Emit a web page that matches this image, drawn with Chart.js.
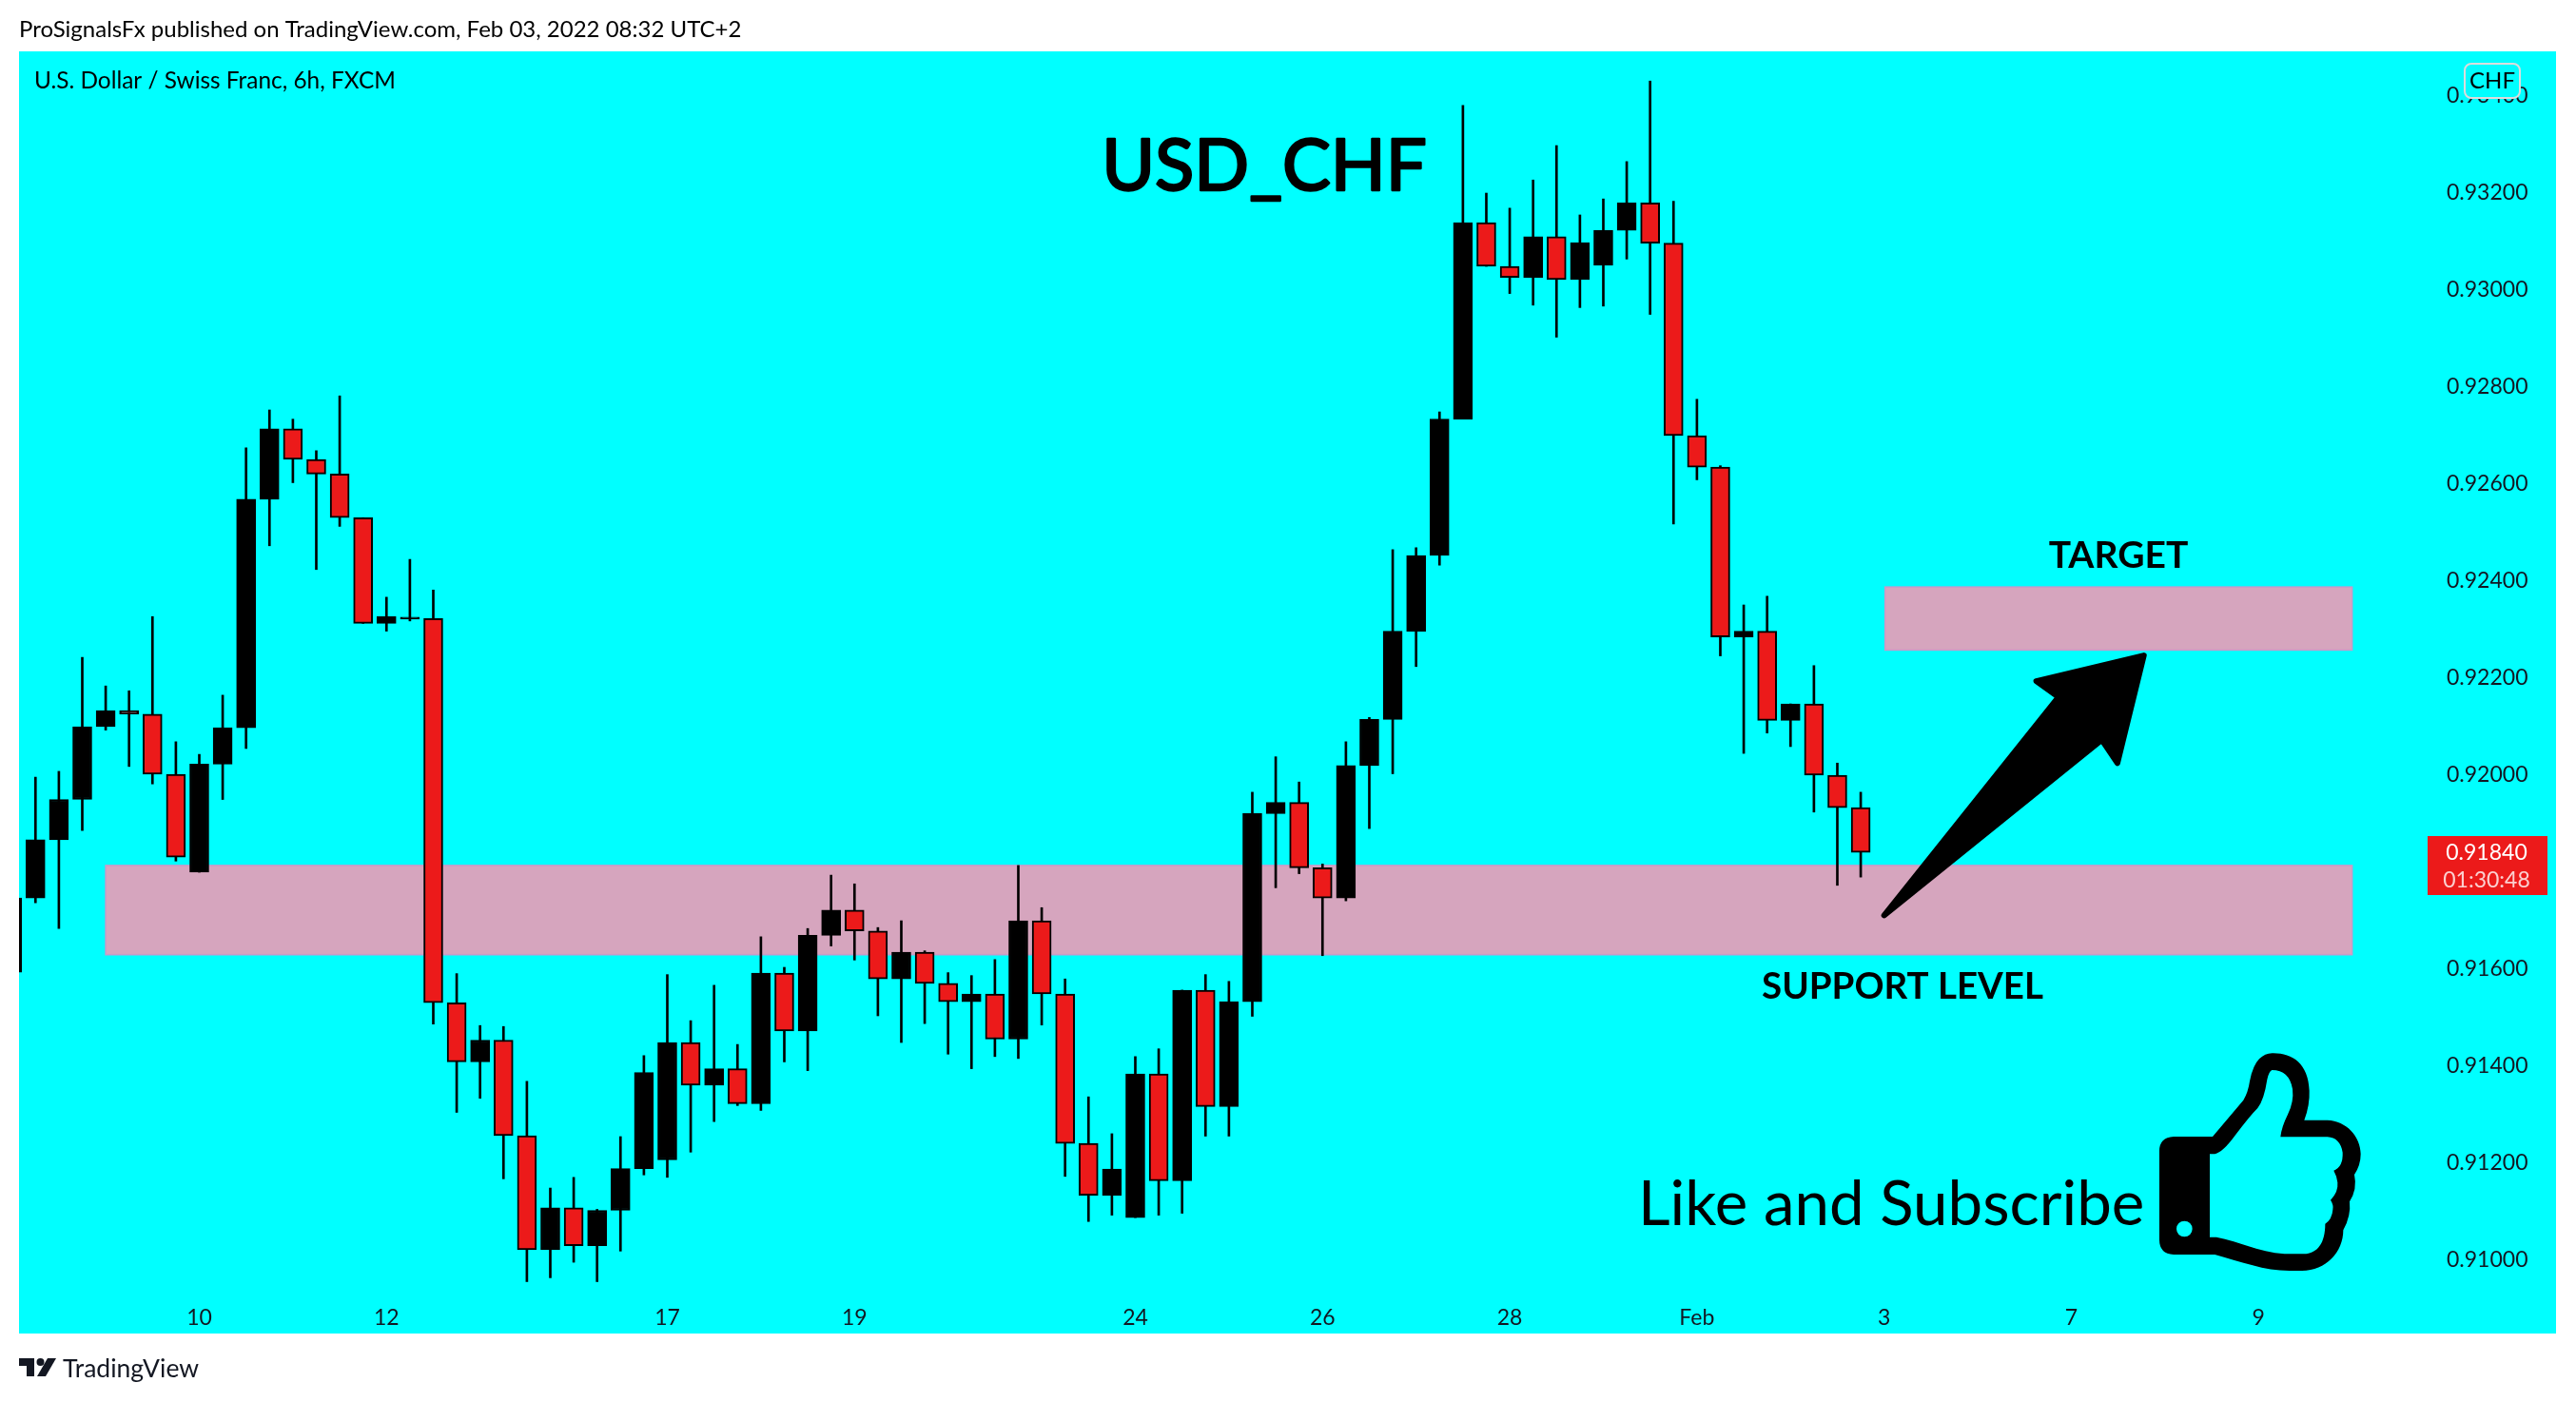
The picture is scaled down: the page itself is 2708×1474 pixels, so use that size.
<!DOCTYPE html>
<html>
<head>
<meta charset="utf-8">
<title>USD_CHF</title>
<script src="https://cdn.jsdelivr.net/npm/chart.js@4"></script>
<style>
    html, body { margin: 0; padding: 0; background: #ffffff; }
    canvas { display: block; }
</style>
</head>
<body>
<canvas id="priceChart" width="2708" height="1474"></canvas>
<script>
// Candle data, first bar is the one cut off by the left edge (index -1)
const firstIndex = -1;
const opens = [
    0.91593, 0.91746, 0.91866, 0.91949, 0.92099, 0.92132, 0.92125, 0.92001, 0.91799, 0.92022,
    0.92097, 0.92568, 0.92713, 0.92650, 0.92620, 0.92530, 0.92312, 0.92321, 0.92322, 0.91530,
    0.91408, 0.91453, 0.91256, 0.91021, 0.91107, 0.91029, 0.91102, 0.91188, 0.91206, 0.91448,
    0.91360, 0.91394, 0.91322, 0.91591, 0.91472, 0.91669, 0.91721, 0.91678, 0.91579, 0.91634,
    0.91570, 0.91532, 0.91548, 0.91455, 0.91699, 0.91548, 0.91240, 0.91133, 0.91087, 0.91383,
    0.91163, 0.91556, 0.91316, 0.91532, 0.91920, 0.91943, 0.91808, 0.91746, 0.92019, 0.92114,
    0.92296, 0.92452, 0.92733, 0.93138, 0.93048, 0.93025, 0.93109, 0.93021, 0.93050, 0.93122,
    0.93179, 0.93096, 0.92699, 0.92634, 0.92284, 0.92296, 0.92112, 0.92146, 0.91999, 0.91932
];
const closes = [
    0.91746, 0.91866, 0.91949, 0.92099, 0.92132, 0.92125, 0.92001, 0.91830, 0.92022, 0.92097,
    0.92568, 0.92713, 0.92650, 0.92620, 0.92530, 0.92312, 0.92326, 0.92325, 0.91530, 0.91408,
    0.91453, 0.91256, 0.91021, 0.91107, 0.91029, 0.91102, 0.91188, 0.91386, 0.91448, 0.91360,
    0.91394, 0.91322, 0.91591, 0.91472, 0.91669, 0.91721, 0.91678, 0.91579, 0.91634, 0.91570,
    0.91532, 0.91548, 0.91455, 0.91699, 0.91548, 0.91240, 0.91133, 0.91187, 0.91383, 0.91163,
    0.91556, 0.91316, 0.91532, 0.91920, 0.91943, 0.91808, 0.91746, 0.92019, 0.92114, 0.92296,
    0.92452, 0.92733, 0.93138, 0.93048, 0.93025, 0.93109, 0.93021, 0.93097, 0.93122, 0.93179,
    0.93096, 0.92699, 0.92634, 0.92284, 0.92296, 0.92112, 0.92146, 0.91999, 0.91932, 0.91840
];
const highs = [
    0.91746, 0.91995, 0.92007, 0.92242, 0.92183, 0.92173, 0.92326, 0.92068, 0.92042, 0.92164,
    0.92674, 0.92752, 0.92733, 0.92668, 0.92781, 0.92530, 0.92366, 0.92444, 0.92381, 0.91590,
    0.91483, 0.91481, 0.91368, 0.91148, 0.91170, 0.91104, 0.91254, 0.91421, 0.91588, 0.91493,
    0.91566, 0.91444, 0.91666, 0.91603, 0.91683, 0.91793, 0.91775, 0.91685, 0.91699, 0.91637,
    0.91592, 0.91586, 0.91619, 0.91813, 0.91726, 0.91579, 0.91336, 0.91260, 0.91419, 0.91435,
    0.91556, 0.91588, 0.91574, 0.91964, 0.92037, 0.91985, 0.91816, 0.92068, 0.92118, 0.92464,
    0.92468, 0.92748, 0.93380, 0.93199, 0.93168, 0.93226, 0.93297, 0.93154, 0.93187, 0.93264,
    0.93430, 0.93182, 0.92774, 0.92637, 0.92350, 0.92368, 0.92146, 0.92225, 0.92024, 0.91964
];
const lows = [
    0.91593, 0.91736, 0.91683, 0.91885, 0.92092, 0.92017, 0.91981, 0.91822, 0.91799, 0.91949,
    0.92054, 0.92472, 0.92602, 0.92423, 0.92512, 0.92312, 0.92296, 0.92317, 0.91486, 0.91304,
    0.91333, 0.91167, 0.90955, 0.90963, 0.90995, 0.90955, 0.91018, 0.91175, 0.91170, 0.91222,
    0.91285, 0.91318, 0.91308, 0.91408, 0.91390, 0.91647, 0.91618, 0.91503, 0.91448, 0.91487,
    0.91424, 0.91394, 0.91419, 0.91415, 0.91484, 0.91172, 0.91079, 0.91092, 0.91087, 0.91092,
    0.91096, 0.91255, 0.91255, 0.91502, 0.91767, 0.91796, 0.91627, 0.91740, 0.91889, 0.92002,
    0.92223, 0.92432, 0.92733, 0.93048, 0.92992, 0.92968, 0.92902, 0.92963, 0.92966, 0.93063,
    0.92949, 0.92517, 0.92608, 0.92245, 0.92044, 0.92086, 0.92058, 0.91923, 0.91772, 0.91789
];

// Axis ticks
const priceTicks = [0.91, 0.912, 0.914, 0.916, 0.92, 0.922, 0.924, 0.926, 0.928, 0.93, 0.932, 0.934];
const timeTickIndex = [7, 15, 27, 35, 47, 55, 63, 71, 79, 87, 95];
const timeTickLabels = ['10', '12', '17', '19', '24', '26', '28', 'Feb', '3', '7', '9'];
const lastPrice = 0.9184;

// Drawn objects, in bar index and price
const zoneStart = [3, 79.04];
const zoneEnd = [99, 99];
const zoneTop = [0.91813, 0.92387];
const zoneBottom = [0.91629, 0.92257];
const arrowIndex = [79.0, 88.3, 88.97, 90.1, 85.5, 86.45];
const arrowPrice = [0.9171, 0.92072, 0.92024, 0.92246, 0.92193, 0.9216];

const FONT = 'Lato';
const CYAN = '#00ffff';
const RED = '#ec1a1a';
const BLACK = '#000000';
const THUMB_PATH = 'M105,315 L228,315 L325,200 Q340,175 345,140 Q355,90 375,70 Q395,50 420,52 C480,52 530,85 533,170 ' +
    'Q535,215 517,263 L590,263 C650,265 695,315 695,370 Q695,405 675,435 Q685,480 660,520 Q665,565 640,610 ' +
    'C640,680 585,738 510,738 L470,738 C390,738 320,710 235,687 L105,687 Q60,685 60,640 L60,360 Q60,318 105,315 Z ' +
    'M219,370 L219,632 L240,632 C310,645 390,685 470,685 L515,685 C560,683 583,650 583,590 Q605,575 607,545 ' +
    'Q610,530 600,515 Q625,490 622,460 Q620,440 610,422 Q640,410 638,365 Q630,318 590,316 L442,316 Q445,285 465,245 ' +
    'Q485,205 480,165 Q470,105 415,105 Q405,110 400,135 Q390,200 370,225 Q345,250 300,310 Q260,365 235,370 Z ' +
    'M164,606 A25,25 0 1 0 114,606 A25,25 0 1 0 164,606 Z';

const indexes = opens.map((_, i) => i + firstIndex);

function drawText(ctx, text, x, y, size, opts) {
    opts = opts || {};
    ctx.save();
    ctx.font = (opts.weight || 'normal') + ' ' + size + 'px "' + FONT + '"';
    ctx.fillStyle = opts.color || BLACK;
    ctx.textAlign = opts.align || 'left';
    ctx.textBaseline = 'alphabetic';
    ctx.fillText(text, x, y);
    if (opts.stroke) {
        // the big title is heavier than the regular weight
        ctx.strokeStyle = opts.color || BLACK;
        ctx.lineWidth = opts.stroke;
        ctx.strokeText(text, x, y);
    }
    ctx.restore();
}

function drawThumb(ctx) {
    ctx.save();
    ctx.translate(2250, 1090);
    ctx.scale(1 / 3, 1 / 3);
    ctx.fillStyle = BLACK;
    ctx.fill(new Path2D(THUMB_PATH), 'evenodd');
    ctx.restore();
}

function drawLogo(ctx) {
    ctx.fillStyle = '#131722';
    ctx.fillRect(20, 1428, 16, 8);
    ctx.fillRect(28, 1428, 8, 19);
    ctx.beginPath();
    ctx.arc(42.5, 1432, 4, 0, Math.PI * 2);
    ctx.fill();
    ctx.beginPath();
    ctx.moveTo(50, 1428);
    ctx.lineTo(59, 1428);
    ctx.lineTo(48, 1447);
    ctx.lineTo(39, 1447);
    ctx.closePath();
    ctx.fill();
}

// Panel background and the pink zones go under the candles
const backgroundPlugin = {
    id: 'background',
    beforeDraw(chart) {
        const ctx = chart.ctx;
        ctx.fillStyle = '#ffffff';
        ctx.fillRect(0, 0, 2708, 1474);
        ctx.fillStyle = CYAN;
        ctx.fillRect(20, 54, 2667, 1348);
    },
    beforeDatasetsDraw(chart) {
        const ctx = chart.ctx;
        const x = chart.scales.x;
        const y = chart.scales.y;
        zoneStart.forEach((start, i) => {
            const left = x.getPixelForValue(start);
            const top = y.getPixelForValue(zoneTop[i]);
            const width = x.getPixelForValue(zoneEnd[i]) - left;
            const height = y.getPixelForValue(zoneBottom[i]) - top;
            ctx.fillStyle = '#d6a5be';
            ctx.fillRect(left, top, width, height);
            ctx.strokeStyle = '#c99ac9';
            ctx.lineWidth = 1.5;
            ctx.strokeRect(left, top, width, height);
        });
    }
};

// Arrow, labels and everything around the chart
const overlayPlugin = {
    id: 'overlay',
    afterDraw(chart) {
        const ctx = chart.ctx;
        const x = chart.scales.x;
        const y = chart.scales.y;

        ctx.beginPath();
        arrowIndex.forEach((value, i) => {
            const px = x.getPixelForValue(value);
            const py = y.getPixelForValue(arrowPrice[i]);
            if (i === 0) ctx.moveTo(px, py); else ctx.lineTo(px, py);
        });
        ctx.closePath();
        ctx.fillStyle = BLACK;
        ctx.strokeStyle = BLACK;
        ctx.lineWidth = 6;
        ctx.lineJoin = 'round';
        ctx.fill();
        ctx.stroke();

        drawThumb(ctx);

        drawText(ctx, 'ProSignalsFx published on TradingView.com, Feb 03, 2022 08:32 UTC+2', 20, 39, 24);
        drawText(ctx, 'U.S. Dollar / Swiss Franc, 6h, FXCM', 36, 93, 24.4);
        drawText(ctx, 'USD_CHF', 1329, 200, 76, { align: 'center', stroke: 2.5 });
        drawText(ctx, 'TARGET', 2227, 597, 39, { align: 'center', weight: 'bold' });
        drawText(ctx, 'SUPPORT LEVEL', 2000, 1050, 38.5, { align: 'center', weight: 'bold' });
        drawText(ctx, 'Like and Subscribe', 1722, 1288, 65.4);

        // Last price tag
        ctx.fillStyle = RED;
        ctx.fillRect(2552, 879, 126, 62);
        drawText(ctx, lastPrice.toFixed(5), 2614, 904, 23, { align: 'center', color: '#ffffff' });
        drawText(ctx, '01:30:48', 2614, 933, 23, { align: 'center', color: '#fbd0d0' });

        // Currency badge sits over the top price label
        ctx.beginPath();
        ctx.roundRect(2591, 67, 58, 36, 7);
        ctx.fillStyle = CYAN;
        ctx.fill();
        ctx.strokeStyle = '#dcdcdc';
        ctx.lineWidth = 2;
        ctx.stroke();
        drawText(ctx, 'CHF', 2620, 93, 24, { align: 'center' });

        drawLogo(ctx);
        drawText(ctx, 'TradingView', 66, 1448, 26.5, { color: '#131722' });
    }
};

new Chart(document.getElementById('priceChart').getContext('2d'), {
    type: 'bar',
    data: {
        datasets: [
            {
                // Candle bodies
                data: indexes.map((x, i) => ({ x: x, y: [opens[i], closes[i]] })),
                backgroundColor: opens.map((o, i) => (closes[i] >= o ? BLACK : RED)),
                borderColor: BLACK,
                borderWidth: 2,
                borderSkipped: false,
                barThickness: 20,
                grouped: false
            },
            {
                // Wicks
                data: indexes.map((x, i) => ({ x: x, y: [lows[i], highs[i]] })),
                backgroundColor: BLACK,
                barThickness: 2,
                grouped: false
            }
        ]
    },
    plugins: [backgroundPlugin, overlayPlugin],
    options: {
        responsive: false,
        devicePixelRatio: 1,
        animation: false,
        events: [],
        layout: { padding: { left: 20, top: 54, right: 21, bottom: 72 } },
        plugins: { legend: { display: false }, tooltip: { enabled: false } },
        scales: {
            x: {
                type: 'linear',
                offset: false,
                min: -0.703,
                max: 102.55,
                grid: { display: false },
                border: { display: false },
                afterBuildTicks(scale) {
                    scale.ticks = timeTickIndex.map(v => ({ value: v }));
                },
                afterFit(scale) {
                    scale.height = 48;
                },
                ticks: {
                    autoSkip: false,
                    maxRotation: 0,
                    padding: 10,
                    color: '#131722',
                    font: { family: FONT, size: 23 },
                    callback(value) {
                        return timeTickLabels[timeTickIndex.indexOf(value)];
                    }
                }
            },
            y: {
                position: 'right',
                beginAtZero: false,
                min: 0.909422,
                max: 0.934912,
                grid: { display: false, drawTicks: false },
                border: { display: false },
                afterBuildTicks(scale) {
                    scale.ticks = priceTicks.map(v => ({ value: v }));
                },
                afterFit(scale) {
                    scale.width = 127;
                },
                ticks: {
                    autoSkip: false,
                    padding: 12,
                    color: '#131722',
                    font: { family: FONT, size: 23 },
                    callback(value) {
                        return value.toFixed(5);
                    }
                }
            }
        }
    }
});
</script>
</body>
</html>
